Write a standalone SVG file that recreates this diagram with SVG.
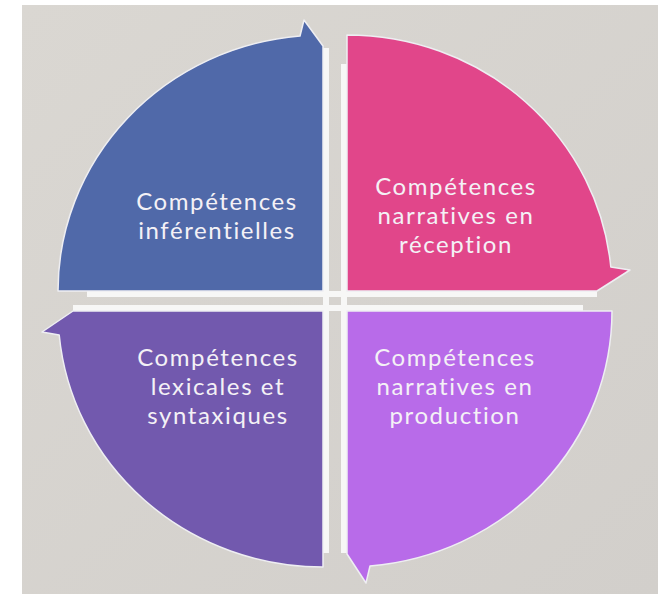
<svg xmlns="http://www.w3.org/2000/svg" width="664" height="594" viewBox="0 0 664 594">
  <defs>
    <linearGradient id="bg" x1="0" y1="0" x2="1" y2="1">
      <stop offset="0" stop-color="#dad7d2"/>
      <stop offset="1" stop-color="#d2cfcb"/>
    </linearGradient>
  </defs>
  <style>
    .seg { stroke: #eeeef2; stroke-width: 1.5; stroke-linejoin: round; }
    .strip { stroke: #f7f7f6; stroke-width: 6; fill: none; }
    .lbl { font-family: "Lato", "Open Sans", sans-serif; font-size: 24px; letter-spacing: 1.6px; fill: #f4f1f6; text-anchor: middle; }
  </style>
  <rect x="0" y="0" width="664" height="594" fill="#ffffff"/>
  <rect x="22" y="5" width="636" height="589" fill="url(#bg)"/>

  <g id="separators">
    <line class="strip" x1="87" y1="294" x2="597" y2="294"/>
    <line class="strip" x1="73" y1="308" x2="583" y2="308"/>
    <line class="strip" x1="326" y1="48" x2="326" y2="553"/>
    <line class="strip" x1="344" y1="64" x2="344" y2="553"/>
  </g>

  <g id="node-inferentielles">
    <path class="seg" fill="#5069a9" d="M323 291 L58 291 A265 256 0 0 1 300 36 L304 20 L323 46 Z"/>
    <text class="lbl" x="217" y="210">Compétences</text>
    <text class="lbl" x="217" y="239">inférentielles</text>
  </g>

  <g id="node-reception">
    <path class="seg" fill="#e1468a" d="M347 291 L347 35 A265 256 0 0 1 610.8 267 L630 270 L597 291 Z"/>
    <text class="lbl" x="456" y="195">Compétences</text>
    <text class="lbl" x="456" y="224">narratives en</text>
    <text class="lbl" x="456" y="253">réception</text>
  </g>

  <g id="node-production">
    <path class="seg" fill="#b86be9" d="M347 311 L612 311 A265 256 0 0 1 370 566 L366 583 L347 554 Z"/>
    <text class="lbl" x="455" y="366">Compétences</text>
    <text class="lbl" x="455" y="395">narratives en</text>
    <text class="lbl" x="455" y="424">production</text>
  </g>

  <g id="node-lexicales">
    <path class="seg" fill="#7259ae" d="M323 311 L323 567 A265 256 0 0 1 59.2 335 L42 332 L73 311 Z"/>
    <text class="lbl" x="218" y="366">Compétences</text>
    <text class="lbl" x="218" y="395">lexicales et</text>
    <text class="lbl" x="218" y="424">syntaxiques</text>
  </g>
</svg>
